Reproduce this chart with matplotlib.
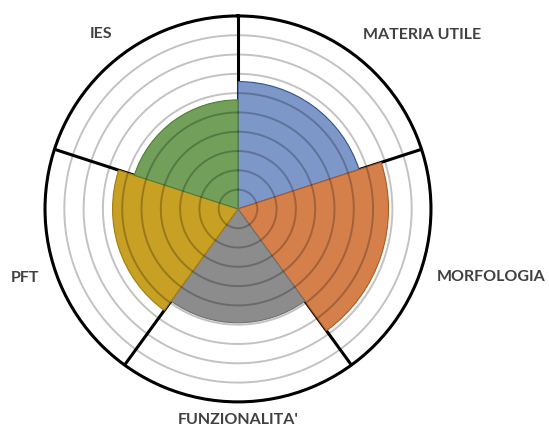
import numpy as np
from matplotlib import pyplot as plt

# data
categories = ['MATERIA UTILE', 'MORFOLOGIA', "FUNZIONALITA'", 'PFT', 'IES']
values = [6.6, 7.8, 5.9, 6.5, 5.65]
fill_colors = ['#7E97C9', '#D5804A', '#8C8C8C', '#C8A023', '#72A05A']
edge_colors = ['#2F528F', '#AE5A21', '#6F6F6F', '#A07C10', '#507E32']
r_max = 10
grid_levels = [1, 2, 3, 4, 5, 6, 7, 8, 9]

# label placement (angle in degrees clockwise from north, radius in data units)
label_angles = [46.6, 105.0, 180.0, 252.0, 322.0]
label_radii = [13.1, 13.6, 10.95, 11.6, 11.5]

plt.rcParams['font.family'] = ['Lato', 'DejaVu Sans']

fig = plt.figure(figsize=(5.49, 4.32), dpi=100)
ax = fig.add_axes([0.082, 0.0694, 0.703, 0.894], projection='polar')
ax.set_theta_zero_location('N')
ax.set_theta_direction(-1)
ax.set_ylim(0, r_max)
ax.grid(False)
ax.set_xticks([])
ax.set_yticks([])
ax.spines['polar'].set_color('black')
ax.spines['polar'].set_linewidth(2.2)

n = len(categories)
width = 2 * np.pi / n
theta = np.arange(n) * width + width / 2

# black spokes at sector boundaries (under the sectors)
for k in range(n):
    a = k * width
    ax.plot([a, a], [0, r_max], color='black', lw=2.2, zorder=1, solid_capstyle='butt')

ax.bar(theta, values, width=width, bottom=0, color=fill_colors,
       edgecolor=edge_colors, linewidth=0.8, zorder=2)

# concentric grid circles drawn on top, semi transparent
tt = np.linspace(0, 2 * np.pi, 400)
for lvl in grid_levels:
    ax.plot(tt, np.full_like(tt, lvl), color='black', alpha=0.24, lw=1.4, zorder=3)

for name, ang, rad in zip(categories, label_angles, label_radii):
    ax.text(np.deg2rad(ang), rad, name, ha='center', va='center',
            fontsize=11.5, fontweight='bold', color='#404040', clip_on=False)

fig.savefig('out.png', dpi=100)
